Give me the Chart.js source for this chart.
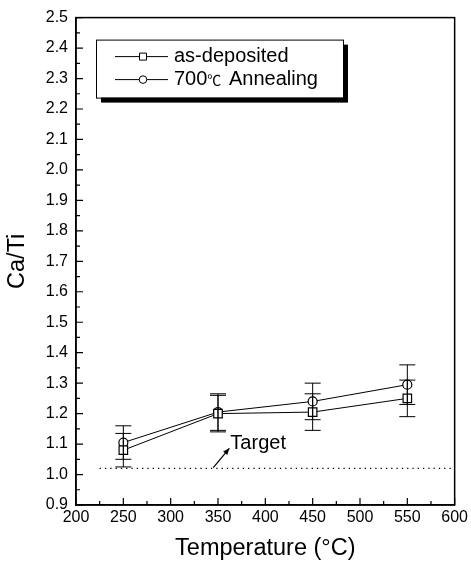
<!DOCTYPE html>
<html>
<head>
<meta charset="utf-8">
<script src="https://cdn.jsdelivr.net/npm/chart.js@4.4.1/dist/chart.umd.min.js"></script>
<style>
  html, body { margin: 0; padding: 0; background: #fff; }
  #wrap { width: 471px; height: 566px; }
</style>
</head>
<body>
<div id="wrap"><canvas id="catiChart"></canvas></div>
<script>
// values
const temps = [250, 350, 450, 550];
const asDeposited = [1.08, 1.20, 1.205, 1.25];
const asDepositedErr = [0.055, 0.06, 0.06, 0.06];
const annealed = [1.105, 1.205, 1.24, 1.295];
const annealedErr = [0.055, 0.06, 0.06, 0.065];
const seriesLabels = ["as-deposited", "700\u2103 Annealing"];
const targetValue = 1.02;
const targetFrom = 225;
const targetLabel = "Target";
const arrowFrom = [345, 1.023];
const arrowTo = [362, 1.086];
const xRange = [200, 600];
const yRange = [0.9, 2.5];

const FONT = "'Liberation Sans', Arial, Helvetica, 'Noto Sans CJK SC', sans-serif";
Chart.defaults.font.family = FONT;
Chart.defaults.color = "#000";

function pts(ys) {
  return temps.map((t, i) => ({ x: t, y: ys[i] }));
}

// inward ticks, frame, error bars, arrow, legend
const extras = {
  id: "extras",
  afterDatasetsDraw(chart) {
    const ctx = chart.ctx;
    const xs = chart.scales.x, ys = chart.scales.y;
    const a = chart.chartArea;
    ctx.save();
    ctx.strokeStyle = "#000";
    ctx.fillStyle = "#000";

    // error bars
    ctx.lineWidth = 1;
    [[asDeposited, asDepositedErr], [annealed, annealedErr]].forEach(([vals, errs]) => {
      vals.forEach((v, i) => {
        const px = xs.getPixelForValue(temps[i]);
        const top = ys.getPixelForValue(v + errs[i]);
        const bot = ys.getPixelForValue(v - errs[i]);
        ctx.beginPath();
        ctx.moveTo(px, top); ctx.lineTo(px, bot);
        ctx.moveTo(px - 8, top); ctx.lineTo(px + 8, top);
        ctx.moveTo(px - 8, bot); ctx.lineTo(px + 8, bot);
        ctx.stroke();
      });
    });

    // frame
    ctx.lineWidth = 1.5;
    ctx.strokeRect(a.left, a.top, a.right - a.left, a.bottom - a.top);

    // inward ticks
    ctx.lineWidth = 1.2;
    ctx.beginPath();
    for (let v = xRange[0]; v <= xRange[1] + 0.1; v += 25) {
      const p = xs.getPixelForValue(v);
      const len = (v % 50 === 0) ? 7 : 4;
      ctx.moveTo(p, a.bottom); ctx.lineTo(p, a.bottom - len);
    }
    for (let k = 0; k <= 32; k++) {
      const v = yRange[0] + k * 0.05;
      const p = ys.getPixelForValue(v);
      const len = (k % 2 === 0) ? 7 : 4;
      ctx.moveTo(a.left, p); ctx.lineTo(a.left + len, p);
    }
    ctx.stroke();

    // target arrow + label
    const ax0 = xs.getPixelForValue(arrowFrom[0]), ay0 = ys.getPixelForValue(arrowFrom[1]);
    const ax1 = xs.getPixelForValue(arrowTo[0]), ay1 = ys.getPixelForValue(arrowTo[1]);
    ctx.lineWidth = 1.2;
    ctx.beginPath(); ctx.moveTo(ax0, ay0); ctx.lineTo(ax1, ay1); ctx.stroke();
    const ang = Math.atan2(ay1 - ay0, ax1 - ax0);
    ctx.beginPath();
    ctx.moveTo(ax1, ay1);
    ctx.lineTo(ax1 - 7 * Math.cos(ang - 0.4), ay1 - 7 * Math.sin(ang - 0.4));
    ctx.lineTo(ax1 - 7 * Math.cos(ang + 0.4), ay1 - 7 * Math.sin(ang + 0.4));
    ctx.closePath(); ctx.fill();
    ctx.font = "20px " + FONT;
    ctx.textAlign = "left"; ctx.textBaseline = "middle";
    ctx.fillText(targetLabel, ax1 + 1, ys.getPixelForValue(1.102));

    // legend box with shadow
    const lx = a.left + 20, ly = a.top + 22, lw = 247, lh = 58;
    ctx.fillRect(lx + 5, ly + 5, lw, lh);
    ctx.fillStyle = "#fff";
    ctx.fillRect(lx, ly, lw, lh);
    ctx.fillStyle = "#000";
    ctx.lineWidth = 1;
    ctx.strokeRect(lx + 0.5, ly + 0.5, lw, lh);
    seriesLabels.forEach((lab, i) => {
      const ry = ly + 17 + i * 23;
      ctx.beginPath();
      ctx.moveTo(lx + 19, ry); ctx.lineTo(lx + 72, ry); ctx.stroke();
      const mx = lx + 47;
      ctx.fillStyle = "#fff";
      ctx.beginPath();
      if (i === 0) ctx.rect(mx - 3.5, ry - 3.5, 7, 7);
      else ctx.arc(mx, ry, 3.8, 0, Math.PI * 2);
      ctx.fill(); ctx.stroke();
      ctx.fillStyle = "#000";
      // the degree sign is set smaller, as in the figure
      let tx = lx + 78;
      lab.split(/(\u2103)/).forEach((part) => {
        if (!part) return;
        const small = part === "\u2103";
        ctx.font = (small ? "14px " : "20px ") + FONT;
        ctx.fillText(part, tx, small ? ry + 2 : ry);
        tx += ctx.measureText(part).width + (small ? 2 : 0);
      });
    });
    ctx.restore();
  }
};

const lineStyle = {
  showLine: true,
  borderColor: "#000",
  borderWidth: 1,
  pointBackgroundColor: "#fff",
  pointBorderColor: "#000",
  pointBorderWidth: 1.2
};

new Chart(document.getElementById("catiChart"), {
  type: "scatter",
  data: {
    datasets: [
      {
        label: "target",
        data: [{ x: targetFrom, y: targetValue }, { x: xRange[1], y: targetValue }],
        showLine: true,
        borderColor: "#000",
        borderWidth: 1.3,
        borderDash: [1.3, 4],
        pointRadius: 0
      },
      Object.assign({ label: seriesLabels[0], data: pts(asDeposited), pointStyle: "rect", pointRadius: 6 }, lineStyle),
      Object.assign({ label: seriesLabels[1], data: pts(annealed), pointStyle: "circle", pointRadius: 4.5 }, lineStyle)
    ]
  },
  options: {
    responsive: true,
    maintainAspectRatio: false,
    animation: false,
    layout: { padding: { top: 13, right: 14, left: 0, bottom: 0 } },
    plugins: { legend: { display: false }, tooltip: { enabled: false } },
    scales: {
      x: {
        type: "linear",
        min: xRange[0], max: xRange[1],
        grid: { display: false, drawTicks: false },
        border: { display: true, color: "#000", width: 1.5 },
        ticks: { stepSize: 50, padding: 3, font: { size: 16 }, color: "#000" },
        title: { display: true, text: "Temperature (\u00B0C)", font: { size: 23.5 }, padding: { top: 0, bottom: 3 } },
        afterFit(s) { s.height = 61; }
      },
      y: {
        min: yRange[0], max: yRange[1],
        grid: { display: false, drawTicks: false },
        border: { display: true, color: "#000", width: 1.5 },
        ticks: { stepSize: 0.1, padding: 8, font: { size: 16 }, color: "#000",
                 callback: (v) => v.toFixed(1) },
        title: { display: true, text: "Ca/Ti", font: { size: 23.5 }, padding: { top: 3, bottom: 0 } },
        afterFit(s) { s.width = 76; }
      }
    }
  },
  plugins: [extras]
});
</script>
</body>
</html>
